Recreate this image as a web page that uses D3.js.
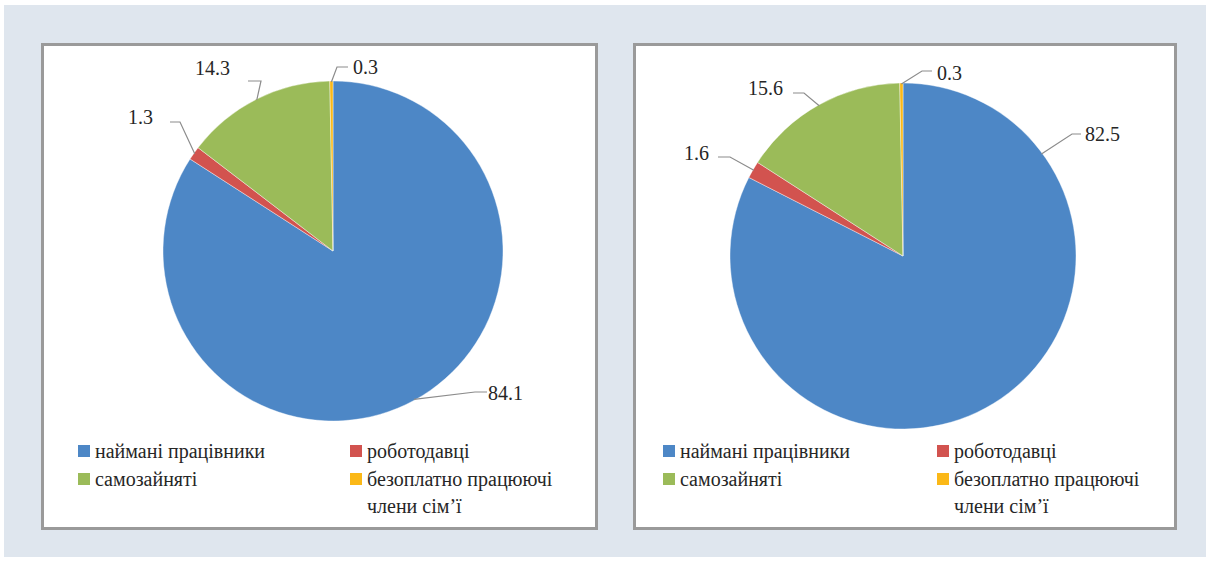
<!DOCTYPE html>
<html>
<head>
<meta charset="utf-8">
<script src="https://cdn.jsdelivr.net/npm/d3@7"></script>
</head>
<body style="margin:0">
<svg id="chart" width="1210" height="561" style="display:block"></svg>
<script>
// Employment structure by status (%), two periods
const categories = ["наймані працівники", "роботодавці", "самозайняті", "безоплатно працюючі члени сім’ї"];
const valuesA = [84.1, 1.3, 14.3, 0.3];
const valuesB = [82.5, 1.6, 15.6, 0.3];
const colors = ["#4d87c6", "#d2534f", "#9bbb59", "#fbb817"];

const FONT = `"Liberation Serif", monospace`;
const svg = d3.select("#chart");

svg.append("rect").attr("x", 4).attr("y", 5).attr("width", 1202).attr("height", 552).attr("fill", "#dfe6ee");

// Panel layout. Each value label: text position (tx, ty, anchor side),
// leader elbow (ex, ey) and end (lx, ly), all relative to the pie center;
// optional anchor angle (deg) on the rim, otherwise the slice mid-angle.
const panels = [
  { values: valuesA, x: 41, y: 43, w: 557, h: 487, cx: 333, cy: 251, r: 170,
    legendX: [78, 350],
    labels: [
      { tx: 155, ty: 142, side: "l", lx: 154, ly: 141, ex: 142, ey: 141 },
      { tx: -180, ty: -134, side: "r", lx: -163, ly: -129, ex: -153, ey: -129 },
      { tx: -103, ty: -183, side: "r", lx: -85, ly: -170, ex: -72, ey: -170 },
      { tx: 20, ty: -184, side: "l", lx: 15, ly: -184, ex: 4, ey: -184 } ] },
  { values: valuesB, x: 633, y: 43, w: 544, h: 487, cx: 903, cy: 256, r: 173,
    legendX: [663, 937],
    labels: [
      { tx: 182, ty: -122, side: "l", lx: 178, ly: -122, ex: 169, ey: -122, angle: 53.6 },
      { tx: -194, ty: -103, side: "r", lx: -185, ly: -99, ex: -173, ey: -99 },
      { tx: -120, ty: -168, side: "r", lx: -110, ly: -163, ex: -99, ey: -163 },
      { tx: 34, ty: -183, side: "l", lx: 29, ly: -185, ex: 19, ey: -185 } ] }
];

panels.forEach(p => {
  const g = svg.append("g");
  // panel frame
  g.append("rect").attr("x", p.x + 1.5).attr("y", p.y + 1.5)
    .attr("width", p.w - 3).attr("height", p.h - 3)
    .attr("fill", "#ffffff").attr("stroke", "#9a9a9a").attr("stroke-width", 3);

  const pie = d3.pie().sort(null).value(d => d)(p.values);
  const arc = d3.arc().innerRadius(0).outerRadius(p.r);
  const pg = g.append("g").attr("transform", `translate(${p.cx},${p.cy})`);

  pg.selectAll("path").data(pie).join("path")
    .attr("d", arc)
    .attr("fill", (d, i) => colors[i])
    .attr("stroke", "#ffffff").attr("stroke-width", 0.4);

  // leader lines and value labels
  pie.forEach((d, i) => {
    const L = p.labels[i];
    const a = L.angle !== undefined ? L.angle * Math.PI / 180 : (d.startAngle + d.endAngle) / 2;
    const ax = Math.sin(a) * (p.r - 1), ay = -Math.cos(a) * (p.r - 1);
    pg.append("polyline")
      .attr("points", `${ax},${ay} ${L.ex},${L.ey} ${L.lx},${L.ly}`)
      .attr("fill", "none").attr("stroke", "#8c8c8c").attr("stroke-width", 1.2);
    svg.append("text")
      .attr("x", p.cx + L.tx)
      .attr("y", p.cy + L.ty + 7)
      .attr("text-anchor", L.side === "l" ? "start" : "end")
      .style("font-family", FONT).style("font-size", "20px")
      .style("fill", "#262626")
      .text(d3.format(".1f")(d.data));
  });

  // legend: two columns
  const rows = [451, 479];
  categories.forEach((c, i) => {
    const col = i % 2, row = Math.floor(i / 2);
    const lx = p.legendX[col], ly = rows[row];
    g.append("rect").attr("x", lx).attr("y", ly - 6).attr("width", 12).attr("height", 12)
      .attr("fill", colors[i]);
    const lines = i === 3 ? ["безоплатно працюючі", "члени сім’ї"] : [c];
    lines.forEach((s, k) => {
      svg.append("text").attr("x", lx + 17).attr("y", ly + k * 27 + 7)
        .style("font-family", FONT).style("font-size", "20px")
        .style("fill", "#262626").text(s);
    });
  });
});
</script>
</body>
</html>
